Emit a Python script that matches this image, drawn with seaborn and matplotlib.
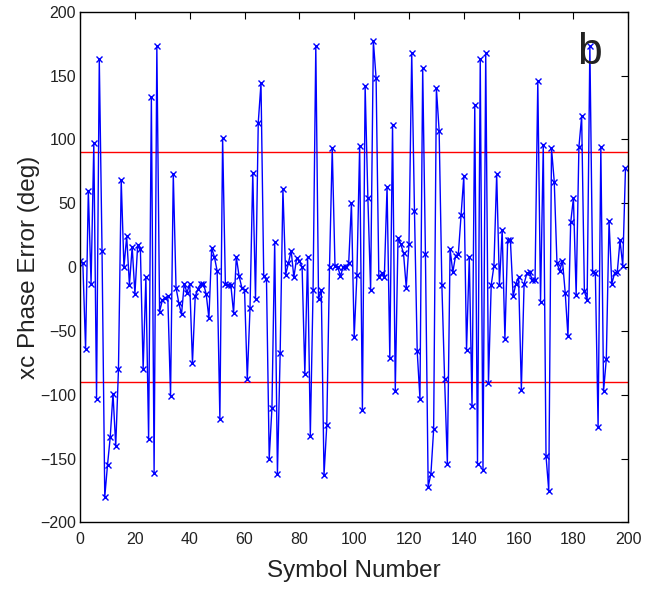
import numpy as np
import pandas as pd
import matplotlib
matplotlib.use("Agg")
import matplotlib.pyplot as plt
import seaborn as sns

# ---- data ----
phase_error = [
    5, 3, -64, 60, -13, 97, -103, 163, 13, -180,
    -155, -133, -99, -140, -80, 68, 0, 24, -14, 16,
    -21, 17, 14, -80, -8, -135, 133, -161, 173, -35,
    -26, -24, -23, -101, 73, -16, -28, -37, -13, -20,
    -13, -75, -23, -17, -13, -13, -21, -40, 15, 8,
    -3, -119, 101, -13, -14, -14, -36, 8, -7, -16,
    -18, -88, -32, 74, -25, 113, 144, -7, -9, -150,
    -110, 20, -162, -67, 61, -6, 3, 13, -8, 7,
    5, 0, -84, 8, -132, -18, 173, -25, -18, -163,
    -124, 0, 93, 1, 0, -7, 0, 0, 3, 50,
    -55, -6, 95, -112, 142, 54, -18, 177, 148, -8,
    -5, -8, 63, -71, 111, -97, 23, 18, 11, -16,
    18, 168, 44, -66, -103, 156, 10, -172, -162, -127,
    140, 107, -14, -88, -154, 14, -4, 9, 10, 41,
    71, -65, 8, -109, 127, -154, 163, -159, 168, -91,
    -14, 1, 73, -14, 29, -56, 21, 21, -23, -13,
    -8, -96, -13, -5, -4, -10, -10, 146, -27, 96,
    -148, -175, 93, 67, 3, -3, 5, -20, -54, 35,
    54, -22, 94, 118, -19, -26, 173, -4, -5, -125,
    94, -97, -72, 36, -13, -5, -4, 21, 1, 78,
]
symbol_number = list(range(len(phase_error)))
threshold_lines = [90, -90]
x_ticks = list(range(0, 201, 20))
y_ticks = list(range(-200, 201, 50))

df = pd.DataFrame({"Symbol Number": symbol_number, "Phase Error": phase_error})

sns.set_style("white")
plt.rcParams["font.family"] = ["Liberation Sans", "DejaVu Sans"]

TXT = "#222222"
fig = plt.figure(figsize=(6.62, 5.89), dpi=100)
ax = fig.add_axes([0.121, 0.113, 0.828, 0.867])

for t in threshold_lines:
    ax.axhline(t, color="red", linewidth=1.0, zorder=1)

sns.lineplot(data=df, x="Symbol Number", y="Phase Error", ax=ax,
             color="blue", linewidth=1.0, marker="x", markersize=5,
             markeredgewidth=1.0, markeredgecolor="blue", zorder=2)

ax.set_xlim(0, 200)
ax.set_ylim(-200, 200)
ax.set_xticks(x_ticks)
ax.set_yticks(y_ticks)
ax.tick_params(direction="in", top=True, right=True, length=5, width=0.8,
               labelsize=11.5, colors="black", labelcolor=TXT)
ax.tick_params(axis="x", pad=7)
ax.tick_params(axis="y", pad=3)
for s in ax.spines.values():
    s.set_visible(True)
    s.set_color("black")
    s.set_linewidth(1.0)

ax.set_xlabel("Symbol Number", fontsize=17.5, labelpad=9, color=TXT)
ax.set_ylabel("xc Phase Error (deg)", fontsize=17.5, labelpad=0, color=TXT)
ax.text(186, 168, "b", fontsize=32, ha="center", va="center", color=TXT)

fig.savefig("out.png", dpi=100)
